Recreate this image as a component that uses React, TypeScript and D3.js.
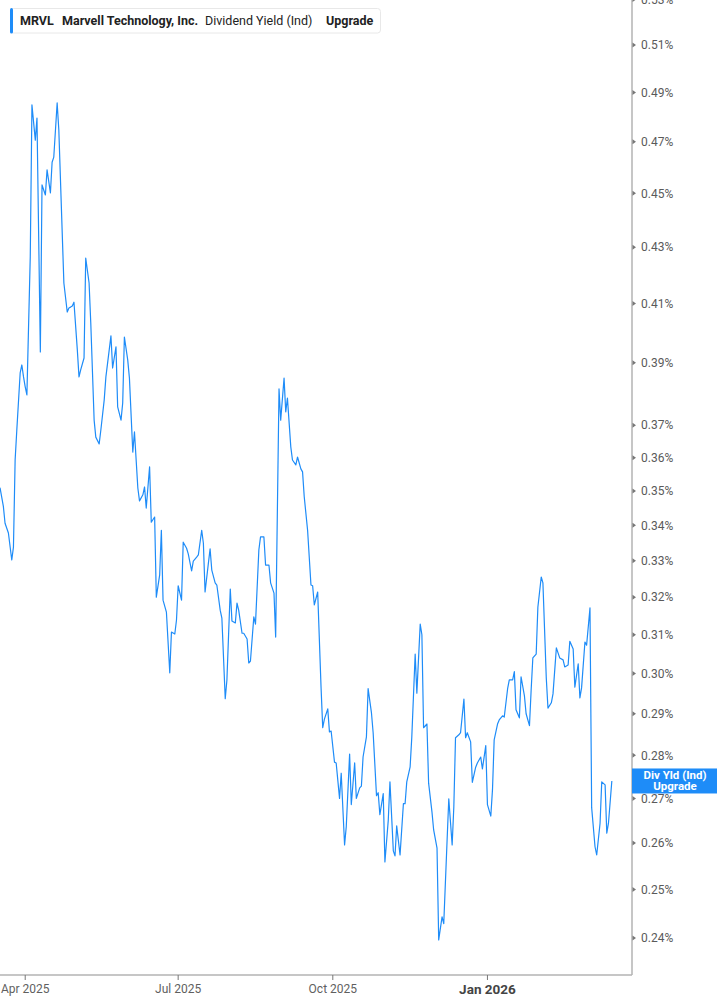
import React from 'react';
import * as d3 from 'd3';

// dividend yield (ind), %
const dates: string[] = [
  '2025-03-17', '2025-03-19', '2025-03-20', '2025-03-22', '2025-03-24', '2025-03-25', '2025-03-26', '2025-03-27', '2025-03-29', '2025-03-30', '2025-03-31',
  '2025-04-01', '2025-04-02', '2025-04-04', '2025-04-05', '2025-04-07', '2025-04-08', '2025-04-10', '2025-04-11', '2025-04-13', '2025-04-14', '2025-04-16', '2025-04-17', '2025-04-18', '2025-04-20', '2025-04-21', '2025-04-24', '2025-04-26', '2025-04-27', '2025-04-28', '2025-04-29', '2025-04-30',
  '2025-05-02', '2025-05-03', '2025-05-04', '2025-05-06', '2025-05-07', '2025-05-09', '2025-05-10', '2025-05-12', '2025-05-13', '2025-05-15', '2025-05-16', '2025-05-18', '2025-05-19', '2025-05-22', '2025-05-23', '2025-05-25', '2025-05-26', '2025-05-28', '2025-05-29', '2025-05-30',
  '2025-06-01', '2025-06-02', '2025-06-04', '2025-06-05', '2025-06-07', '2025-06-08', '2025-06-10', '2025-06-11', '2025-06-12', '2025-06-14', '2025-06-15', '2025-06-17', '2025-06-18', '2025-06-20', '2025-06-21', '2025-06-22', '2025-06-24', '2025-06-26', '2025-06-27', '2025-06-29', '2025-06-30',
  '2025-07-01', '2025-07-03', '2025-07-04', '2025-07-06', '2025-07-07', '2025-07-09', '2025-07-10', '2025-07-12', '2025-07-13', '2025-07-15', '2025-07-16', '2025-07-17', '2025-07-19', '2025-07-20', '2025-07-21', '2025-07-23', '2025-07-24', '2025-07-26', '2025-07-27', '2025-07-29', '2025-07-30',
  '2025-08-01', '2025-08-02', '2025-08-04', '2025-08-05', '2025-08-06', '2025-08-08', '2025-08-09', '2025-08-11', '2025-08-12', '2025-08-13', '2025-08-15', '2025-08-16', '2025-08-18', '2025-08-19', '2025-08-21', '2025-08-22', '2025-08-24', '2025-08-25', '2025-08-27', '2025-08-28', '2025-08-30', '2025-08-31',
  '2025-09-02', '2025-09-03', '2025-09-04', '2025-09-06', '2025-09-07', '2025-09-09', '2025-09-10', '2025-09-12', '2025-09-13', '2025-09-14', '2025-09-16', '2025-09-18', '2025-09-19', '2025-09-20', '2025-09-22', '2025-09-24', '2025-09-25', '2025-09-26', '2025-09-28', '2025-09-29', '2025-09-30',
  '2025-10-02', '2025-10-03', '2025-10-05', '2025-10-06', '2025-10-08', '2025-10-09', '2025-10-11', '2025-10-12', '2025-10-14', '2025-10-15', '2025-10-17', '2025-10-18', '2025-10-19', '2025-10-21', '2025-10-22', '2025-10-24', '2025-10-25', '2025-10-27', '2025-10-28', '2025-10-29', '2025-10-31',
  '2025-11-01', '2025-11-03', '2025-11-04', '2025-11-06', '2025-11-07', '2025-11-08', '2025-11-10', '2025-11-12', '2025-11-13', '2025-11-14', '2025-11-16', '2025-11-17', '2025-11-19', '2025-11-20', '2025-11-22', '2025-11-23', '2025-11-24', '2025-11-26', '2025-11-27', '2025-11-29', '2025-11-30',
  '2025-12-02', '2025-12-03', '2025-12-05', '2025-12-06', '2025-12-08', '2025-12-09', '2025-12-11', '2025-12-12', '2025-12-13', '2025-12-15', '2025-12-16', '2025-12-18', '2025-12-19', '2025-12-20', '2025-12-22', '2025-12-23', '2025-12-25', '2025-12-26', '2025-12-28', '2025-12-29', '2025-12-31',
  '2026-01-01', '2026-01-03', '2026-01-04', '2026-01-05', '2026-01-07', '2026-01-08', '2026-01-10', '2026-01-11', '2026-01-13', '2026-01-14', '2026-01-16', '2026-01-17', '2026-01-18', '2026-01-20', '2026-01-21', '2026-01-23', '2026-01-24', '2026-01-26', '2026-01-27', '2026-01-28', '2026-01-30', '2026-01-31',
  '2026-02-02', '2026-02-03', '2026-02-05', '2026-02-06', '2026-02-08', '2026-02-09', '2026-02-11', '2026-02-12', '2026-02-13', '2026-02-15', '2026-02-16', '2026-02-18', '2026-02-19', '2026-02-21', '2026-02-22', '2026-02-24', '2026-02-25', '2026-02-26', '2026-02-28',
  '2026-03-01', '2026-03-03', '2026-03-04', '2026-03-06', '2026-03-07', '2026-03-09', '2026-03-10', '2026-03-12', '2026-03-13', '2026-03-14', '2026-03-16',
];

const yields: number[] = [
  0.3510, 0.3455, 0.3406, 0.3378, 0.3302, 0.3338, 0.3593, 0.3685, 0.3867, 0.3893, 0.3854,
  0.3822, 0.3796, 0.4265, 0.4849, 0.4707, 0.4795, 0.3936, 0.4532, 0.4494, 0.4590, 0.4502, 0.4620, 0.4640, 0.4857, 0.4747, 0.4172, 0.4071, 0.4085, 0.4088, 0.4092, 0.4105,
  0.3943, 0.3854, 0.3877, 0.3916, 0.4261, 0.4172, 0.4034, 0.3716, 0.3663, 0.3642, 0.3685, 0.3780, 0.3854, 0.3990, 0.3883, 0.3953, 0.3758, 0.3716, 0.3770, 0.3986,
  0.3909, 0.3850, 0.3617, 0.3679, 0.3509, 0.3471, 0.3489, 0.3512, 0.3450, 0.3572, 0.3409, 0.3424, 0.3200, 0.3261, 0.3386, 0.3192, 0.3160, 0.3002, 0.3107, 0.3102, 0.3139,
  0.3231, 0.3192, 0.3352, 0.3335, 0.3319, 0.3272, 0.3299, 0.3310, 0.3316, 0.3386, 0.3349, 0.3214, 0.3294, 0.3333, 0.3274, 0.3239, 0.3233, 0.3165, 0.3144, 0.2937, 0.2984,
  0.3222, 0.3136, 0.3131, 0.3184, 0.3165, 0.3104, 0.3104, 0.3089, 0.3027, 0.3032, 0.3147, 0.3128, 0.3330, 0.3367, 0.3367, 0.3288, 0.3288, 0.3239, 0.3211, 0.3094, 0.3815, 0.3716,
  0.3850, 0.3742, 0.3786, 0.3633, 0.3593, 0.3578, 0.3602, 0.3566, 0.3557, 0.3483, 0.3386, 0.3233, 0.3231, 0.3179, 0.3214, 0.2966, 0.2866, 0.2887, 0.2912, 0.2856, 0.2858,
  0.2784, 0.2782, 0.2700, 0.2758, 0.2596, 0.2636, 0.2803, 0.2686, 0.2782, 0.2700, 0.2724, 0.2728, 0.2796, 0.2844, 0.2962, 0.2902, 0.2854, 0.2706, 0.2713, 0.2663, 0.2711,
  0.2559, 0.2651, 0.2738, 0.2583, 0.2572, 0.2638, 0.2574, 0.2688, 0.2688, 0.2738, 0.2773, 0.2844, 0.3050, 0.2951, 0.3128, 0.3100, 0.2866, 0.2875, 0.2735, 0.2669, 0.2629,
  0.2589, 0.2396, 0.2443, 0.2429, 0.2607, 0.2699, 0.2596, 0.2681, 0.2842, 0.2849, 0.2854, 0.2936, 0.2842, 0.2854, 0.2832, 0.2737, 0.2772, 0.2782, 0.2796, 0.2768, 0.2823,
  0.2686, 0.2660, 0.2720, 0.2837, 0.2875, 0.2885, 0.2895, 0.2892, 0.2962, 0.2984, 0.2984, 0.3005, 0.2910, 0.2890, 0.2992, 0.2944, 0.2900, 0.2871, 0.2959, 0.3040, 0.3050, 0.3173,
  0.3255, 0.3239, 0.2989, 0.2914, 0.2927, 0.2949, 0.3066, 0.3053, 0.3040, 0.3035, 0.3017, 0.3022, 0.3083, 0.3063, 0.2966, 0.3025, 0.2939, 0.2964, 0.3081,
  0.3073, 0.3171, 0.2679, 0.2592, 0.2574, 0.2644, 0.2738, 0.2731, 0.2622, 0.2644, 0.2740,
];

const yTicks = [0.24, 0.25, 0.26, 0.27, 0.28, 0.29, 0.3, 0.31, 0.32, 0.33, 0.34, 0.35, 0.36, 0.37, 0.39, 0.41, 0.43, 0.45, 0.47, 0.49, 0.51, 0.53];
const xTicks = ['2025-04-01', '2025-07-01', '2025-10-01', '2026-01-01'];
const xTickLabels = ['Apr 2025', 'Jul 2025', 'Oct 2025', 'Jan 2026'];

const width = 717;
const height = 1005;
const plot = { left: 0, right: 632, top: 0, bottom: 975 };
const blue = '#1e8cf8';
const font = 'Roboto, "Noto Sans", sans-serif';

export default function App() {
  const parse = d3.timeParse('%Y-%m-%d');
  const points = dates.map((d, i) => [parse(d) as Date, yields[i]] as [Date, number]);

  const x = d3.scaleTime()
    .domain([parse('2025-03-17') as Date, parse('2026-03-28') as Date])
    .range([plot.left, plot.right]);
  const y = d3.scaleLog()
    .domain([0.2326, 0.5298])
    .range([plot.bottom, plot.top]);

  const line = d3.line<[Date, number]>()
    .x((d) => x(d[0]))
    .y((d) => y(d[1]));

  const last = points[points.length - 1];
  const badgeY = y(last[1]);

  return (
    <svg width={width} height={height} style={{ position: 'absolute', left: 0, top: 0, background: '#fff' }}>
      <defs>
        <clipPath id="plot-clip">
          <rect x={plot.left} y={plot.top} width={plot.right - plot.left} height={plot.bottom - plot.top} />
        </clipPath>
      </defs>

      {/* series */}
      <path d={line(points) ?? ''} fill="none" stroke={blue} strokeWidth={1.2} strokeLinejoin="round" clipPath="url(#plot-clip)" />

      {/* axes */}
      <line x1={plot.left} x2={plot.right} y1={plot.bottom} y2={plot.bottom} stroke="#b3b3b3" strokeWidth={1.5} />
      <line x1={plot.right} x2={plot.right} y1={0} y2={plot.bottom} stroke="#b3b3b3" strokeWidth={1.5} />

      {xTicks.map((t, i) => {
        const px = x(parse(t) as Date);
        const isYear = xTickLabels[i].startsWith('Jan');
        return (
          <g key={t}>
            <line x1={px} x2={px} y1={plot.bottom} y2={plot.bottom + 5} stroke="#777" strokeWidth={1} />
            <text
              x={px}
              y={isYear ? 994 : 993}
              textAnchor="middle"
              fontFamily={font}
              fontSize={isYear ? 13.5 : 12}
              fontWeight={isYear ? 700 : 400}
              fill={isYear ? '#444' : '#5f5f5f'}
            >
              {xTickLabels[i]}
            </text>
          </g>
        );
      })}

      {yTicks.map((t) => {
        const py = y(t);
        return (
          <g key={t}>
            <path d={`M${plot.right + 0.5},${py - 2.5}L${plot.right + 4},${py}L${plot.right + 0.5},${py + 2.5}Z`} fill="#777" />
            <text x={641} y={py} dy="0.35em" fontFamily={font} fontSize={12} fill="#5a5a5a">
              {`${t.toFixed(2)}%`}
            </text>
          </g>
        );
      })}

      {/* last value badge */}
      <rect x={plot.right} y={badgeY - 12.5} width={width - plot.right} height={25} fill={blue} />
      <text x={675} y={badgeY - 2} textAnchor="middle" fontFamily={font} fontSize={11.5} fontWeight={700} fill="#fff">
        Div Yld (Ind)
      </text>
      <text x={675} y={badgeY + 9.5} textAnchor="middle" fontFamily={font} fontSize={11.5} fontWeight={700} fill="#fff">
        Upgrade
      </text>

      {/* legend */}
      <rect x={10.5} y={8.5} width={370} height={24.5} rx={3} fill="#fff" stroke="#e8e8e8" />
      <rect x={10} y={8} width={3} height={25.5} rx={1.5} fill={blue} />
      <g fontFamily={font} fontSize={12.5} fill="#222">
        <text x={20} y={25} fontWeight={700}>MRVL</text>
        <text x={62} y={25} fontWeight={700}>Marvell Technology, Inc.</text>
        <text x={205} y={25} fontWeight={400}>Dividend Yield (Ind)</text>
        <text x={326} y={25} fontWeight={700}>Upgrade</text>
      </g>
    </svg>
  );
}
